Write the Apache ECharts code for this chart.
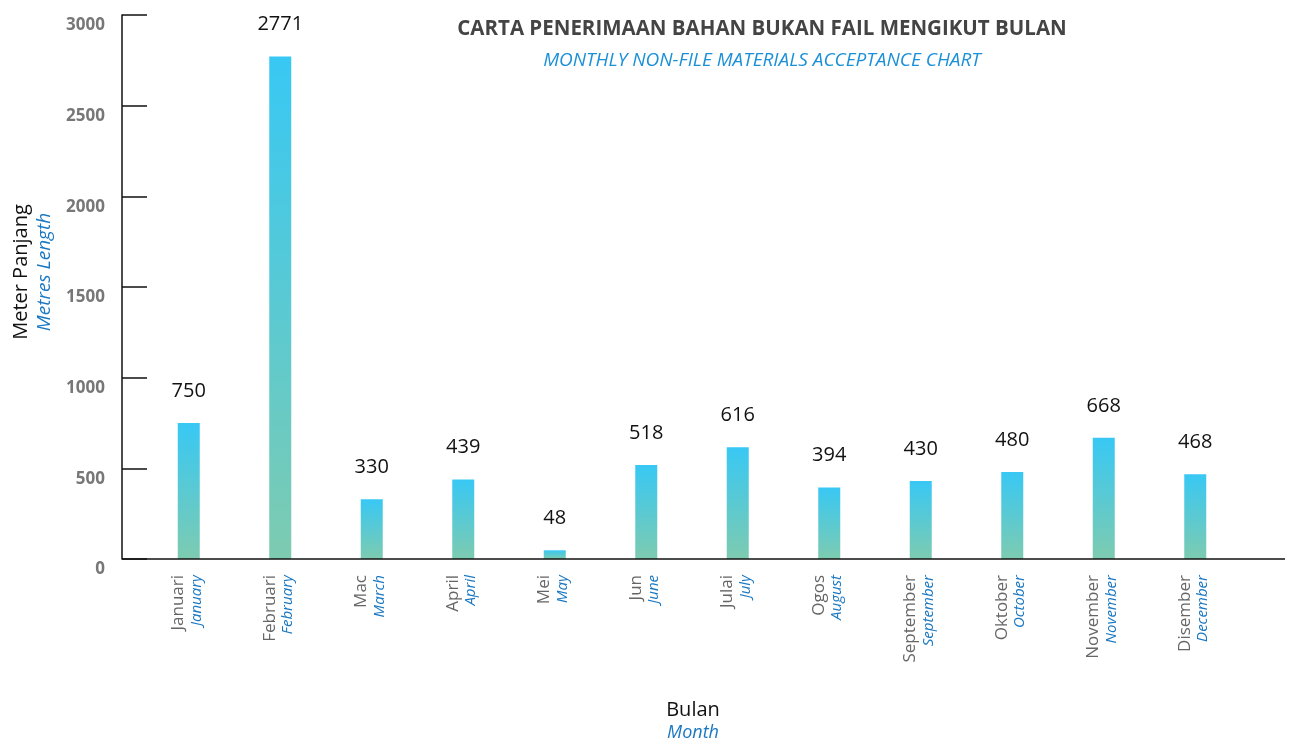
<!DOCTYPE html>
<html>
<head>
<meta charset="utf-8">
<title>Carta Penerimaan Bahan Bukan Fail</title>
<script src="https://cdn.jsdelivr.net/npm/echarts@6/dist/echarts.min.js"></script>
<style>
    html, body {margin: 0; padding: 0; background: #fff;}
    #main {width: 1298px; height: 740px;}
</style>
</head>
<body>
<div id="main"></div>
<script>
// bulan (BM / BI)
var monthsMy = ['Januari', 'Februari', 'Mac', 'April', 'Mei', 'Jun', 'Julai', 'Ogos', 'September', 'Oktober', 'November', 'Disember'];
var monthsEn = ['January', 'February', 'March', 'April', 'May', 'June', 'July', 'August', 'September', 'October', 'November', 'December'];
// meter panjang
var values = [750, 2771, 330, 439, 48, 518, 616, 394, 430, 480, 668, 468];
var yTicks = [0, 500, 1000, 1500, 2000, 2500, 3000];

var FONT = '"Open Sans", "Noto Sans", sans-serif';
var BLUE = '#1a78c2';

var chart = echarts.init(document.getElementById('main'));

var categories = [];
for (var i = 0; i < monthsMy.length; i++) {
    categories.push(monthsMy[i] + '\n{en|' + monthsEn[i] + '}');
}

var option = {
    backgroundColor: '#fff',
    animation: false,
    title: {
        text: 'CARTA PENERIMAAN BAHAN BUKAN FAIL MENGIKUT BULAN',
        subtext: 'MONTHLY NON-FILE MATERIALS ACCEPTANCE CHART',
        left: 757,
        top: 14,
        textAlign: 'center',
        itemGap: 11,
        textStyle: {fontFamily: FONT, fontSize: 20.5, fontWeight: 'bold', color: '#444'},
        subtextStyle: {fontFamily: FONT, fontSize: 19, fontStyle: 'italic', color: '#1a90d8'}
    },
    grid: {left: 143, right: 57, top: 15, bottom: 181},
    xAxis: {
        type: 'category',
        data: categories,
        axisLine: {show: false},
        axisTick: {show: false},
        axisLabel: {
            interval: 0,
            rotate: 90,
            margin: 16,
            fontFamily: FONT,
            fontSize: 17,
            color: '#666',
            lineHeight: 19,
            padding: [0, 0, 4, 0],
            rich: {
                en: {fontFamily: FONT, fontSize: 15, fontStyle: 'italic', color: BLUE, lineHeight: 17}
            }
        }
    },
    yAxis: {
        type: 'value',
        min: 0,
        max: yTicks[yTicks.length - 1],
        interval: 500,
        offset: 21,
        splitLine: {show: false},
        axisLine: {show: true, lineStyle: {color: '#111', width: 1.5}},
        axisTick: {show: true, inside: true, length: 25, lineStyle: {color: '#111', width: 1.5}},
        axisLabel: {
            margin: 17,
            verticalAlign: 'top',
            padding: [2, 0, 0, 0],
            formatter: function (v) { return String(v); },
            fontFamily: FONT,
            fontSize: 17,
            fontWeight: 'bold',
            color: '#777'
        }
    },
    series: [{
        type: 'bar',
        data: values,
        barWidth: 22,
        itemStyle: {
            color: new echarts.graphic.LinearGradient(0, 0, 0, 1, [
                {offset: 0, color: '#38c8f4'},
                {offset: 1, color: '#7dcbb0'}
            ])
        },
        label: {
            show: true,
            position: 'top',
            distance: 22,
            fontFamily: FONT,
            fontSize: 20,
            color: '#111'
        }
    }],
    graphic: [
        // garis paksi x (lebih panjang dari grid)
        {
            type: 'line',
            shape: {x1: 122, y1: 559, x2: 1285, y2: 559},
            style: {stroke: '#111', lineWidth: 1.5},
            z: 10
        },
        {
            type: 'text',
            x: 33,
            y: 272,
            rotation: Math.PI / 2,
            style: {
                text: 'Meter Panjang\n{en|Metres Length}',
                align: 'center',
                verticalAlign: 'middle',
                fontFamily: FONT,
                fontSize: 20,
                lineHeight: 23,
                fill: '#111',
                rich: {
                    en: {fontFamily: FONT, fontSize: 19, fontStyle: 'italic', fill: BLUE, lineHeight: 23}
                }
            }
        },
        {
            type: 'text',
            x: 693,
            y: 721,
            style: {
                text: 'Bulan\n{en|Month}',
                align: 'center',
                verticalAlign: 'middle',
                fontFamily: FONT,
                fontSize: 20,
                lineHeight: 23,
                fill: '#111',
                rich: {
                    en: {fontFamily: FONT, fontSize: 18, fontStyle: 'italic', fill: BLUE, lineHeight: 22}
                }
            }
        }
    ]
};

chart.setOption(option);
</script>
</body>
</html>
